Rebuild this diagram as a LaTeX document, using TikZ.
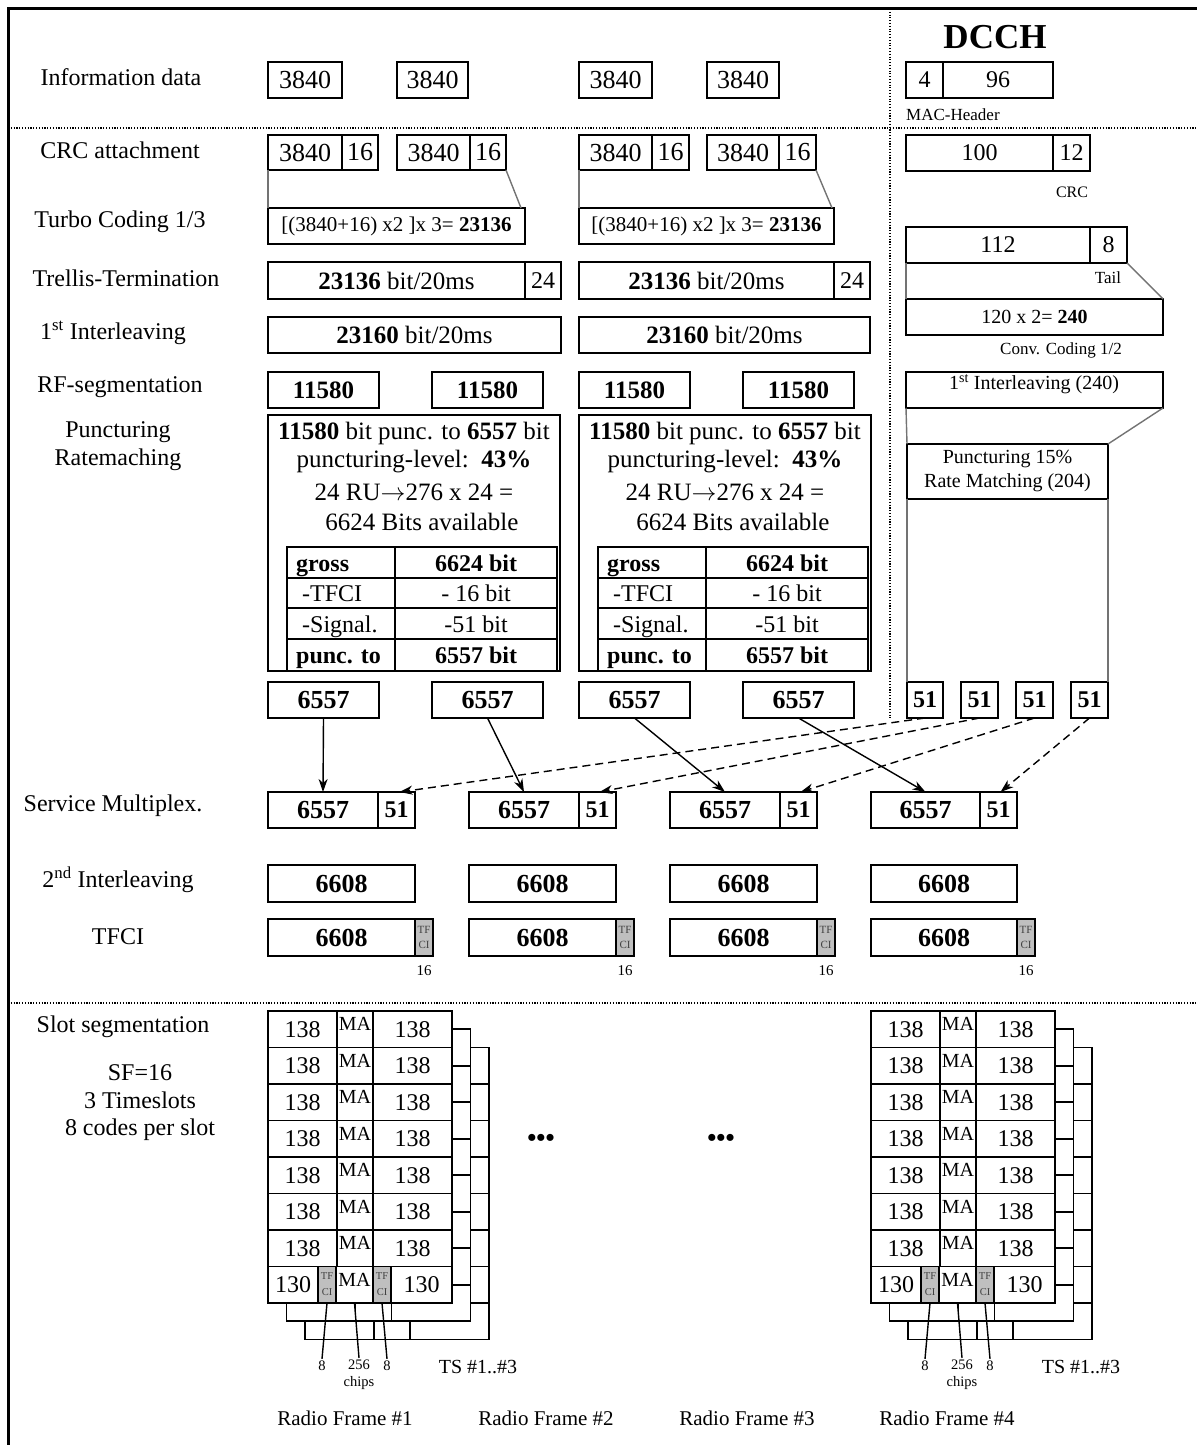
\documentclass[tikz,border=0pt]{standalone}
\usepackage{fontspec}
\setmainfont{Liberation Serif}
\usetikzlibrary{calc,arrows.meta}
\newcommand\fz[2]{\fontsize{#1}{#2}\selectfont}
\tikzset{
 bxs/.style={draw,line width=1.6pt,inner sep=0pt,outer sep=0pt,fill=white,font=\fz{24}{28}},
 lbl/.style={inner sep=0pt,font=\fz{24}{28}},
 tbl/.style={inner sep=0pt,font=\fz{24}{28},text height=17pt,text depth=5pt},
 sml/.style={inner sep=0pt,font=\fz{17}{20}},
 grayl/.style={draw=black!55,line width=1.4pt},
 dotl/.style={line width=1.1pt,dash pattern=on 1.1pt off 1.7pt},
 arr/.style={-{Stealth[length=13pt,width=9pt,inset=4pt]},line width=1.4pt},
 darr/.style={arr,dash pattern=on 8pt off 5pt},
 tfc/.style={fill=gray!50,align=center,font=\fz{11}{15},text=black!75},
 tft/.style={inner sep=0pt,font=\fz{10.5}{12},text=black!75},
 mac/.style={font=\fz{20}{22}},
 big/.style={font=\fz{26}{30}},
 bigb/.style={font=\fz{26}{30}\bfseries},
}
\newcommand\Bx[7][]{\node[bxs,minimum width={((#4)-(#2))*1pt},minimum height={((#5)-(#3))*1pt},#1] (#6) at ({((#2)+(#4))/2},{((#3)+(#5))/2}) {#7};}
\newcommand\puncbox[2]{%
 \Bx{#1+268}{415}{#1+560}{671}{#2}{}
 \node[lbl,font=\fz{25}{30}] (#2a) at ({#1+414},433) {\textbf{11580} bit punc. to \textbf{6557} bit};
 \node[lbl,font=\fz{25}{30}] (#2b) at ({#1+414},462) {puncturing-level:\ \ \textbf{43\%}};
 \node[lbl,font=\fz{25}{30}] (#2c) at ({#1+414},492) {24 RU$\rightarrow$276 x 24 =};
 \node[lbl,font=\fz{25}{30}] (#2d) at ({#1+422},522) {6624 Bits available};
 \draw[line width=1.3pt] ({#1+287},578) -- ({#1+557},578) ({#1+287},608) -- ({#1+557},608);
 \draw[line width=2.4pt] ({#1+287},639) -- ({#1+557},639);
 \draw[line width=2.4pt] ({#1+395},547) -- ({#1+395},671);
 \draw[line width=2.4pt] ({#1+287},547) rectangle ({#1+557},671);
 \node[tbl,anchor=west] (#2ga) at ({#1+296},565) {\textbf{gross}};
 \node[tbl,anchor=west] (#2gb) at ({#1+302},595) {-TFCI};
 \node[tbl,anchor=west] (#2gc) at ({#1+302},626) {-Signal.};
 \node[tbl,anchor=west] (#2gd) at ({#1+296},657) {\textbf{punc. to}};
 \node[tbl] (#2ha) at ({#1+476},565) {\textbf{6624 bit}};
 \node[tbl] (#2hb) at ({#1+476},595) {- 16 bit};
 \node[tbl] (#2hc) at ({#1+476},626) {-51 bit};
 \node[tbl] (#2hd) at ({#1+476},657) {\textbf{6557 bit}};
}
\newcommand\slotgroup[2]{%
 \foreach \L/\dx/\dy in {3/37/36.5,2/18.5/18.25}{%
  \foreach \r in {1,...,8}{%
   \pgfmathsetmacro\ya{1011+(\r-1)*36.5+\dy}%
   \pgfmathsetmacro\yb{\ya+36.5}%
   \Bx{#1+268+\dx}{\ya}{#1+337+\dx}{\yb}{#2L\L-r\r-a}{}
   \Bx{#1+337+\dx}{\ya}{#1+373+\dx}{\yb}{#2L\L-r\r-b}{}
   \Bx{#1+373+\dx}{\ya}{#1+452+\dx}{\yb}{#2L\L-r\r-c}{}
  }%
 }%
 \foreach \r in {1,...,7}{%
   \pgfmathsetmacro\ya{1011+(\r-1)*36.5}%
   \pgfmathsetmacro\yb{\ya+36.5}%
   \Bx{#1+268}{\ya}{#1+337}{\yb}{#2F-r\r-a}{138}
   \Bx[mac]{#1+337}{\ya}{#1+373}{\yb}{#2F-r\r-b}{\raisebox{10pt}{MA}}
   \Bx{#1+373}{\ya}{#1+452}{\yb}{#2F-r\r-c}{138}
 }%
 \Bx{#1+268}{1266.5}{#1+318}{1303}{#2F-r8-a}{130}
 \Bx[fill=gray!50]{#1+318}{1266.5}{#1+336}{1303}{#2tfa}{}
 \Bx[mac]{#1+336}{1266.5}{#1+373}{1303}{#2ma}{\raisebox{10pt}{MA}}
 \Bx[fill=gray!50]{#1+373}{1266.5}{#1+391}{1303}{#2tfb}{}
 \Bx{#1+391}{1266.5}{#1+452}{1303}{#2F-r8-c}{130}
 \node[tft] (#2tfa1) at ({#1+327},1276) {TF};
 \node[tft] (#2tfa2) at ({#1+327},1292) {CI};
 \node[tft] (#2tfb1) at ({#1+382},1276) {TF};
 \node[tft] (#2tfb2) at ({#1+382},1292) {CI};
 \node[inner sep=2pt,font=\fz{14.5}{17}] (#2n8a) at ({#1+322},1366) {8};
 \node[inner sep=2pt,font=\fz{14.5}{17},align=center] (#2n256) at ({#1+359},1375) {256\\chips};
 \node[inner sep=2pt,font=\fz{14.5}{17}] (#2n8b) at ({#1+387},1366) {8};
 \draw[line width=1.4pt] (#2tfa.south) -- (#2n8a.north);
 \draw[line width=1.4pt] (#2ma.south) -- (#2n256.north);
 \draw[line width=1.4pt] (#2tfb.south) -- (#2n8b.north);
 \node[lbl,font=\fz{20}{24}] (#2ts) at ({#1+478},1367) {TS \#1..\#3};
}
\begin{document}
\begin{tikzpicture}[x=1pt,y=-1pt]
\useasboundingbox (0,0) rectangle (1197,1445);
% frame and separators
\draw[line width=3pt] (8,1445) -- (8,9) -- (1197,9);
\draw[dotl] (8,128) -- (1197,128);
\draw[dotl] (8,1003) -- (1197,1003);
\draw[dotl] (890,9) -- (890,718);
% left labels
\node[lbl] (lInfo) at (121,77) {Information data};
\node[lbl] (lCRC) at (120,150) {CRC attachment};
\node[lbl] (lTurbo) at (120,222) {Turbo Coding 1/3};
\node[lbl] (lTrel) at (126,278) {Trellis-Termination};
\node[lbl] (lIl) at (113,333) {1\textsuperscript{st} Interleaving};
\node[lbl] (lRF) at (120,387) {RF-segmentation};
\node[lbl,align=center] (lPunc) at (118,446) {Puncturing\\Ratemaching};
\node[lbl] (lSM) at (113,806) {Service Multiplex.};
\node[lbl] (lIl2) at (118,880) {2\textsuperscript{nd} Interleaving};
\node[lbl] (lTFCI) at (118,937) {TFCI};
\node[lbl] (lSlot) at (123,1027) {Slot segmentation};
\node[lbl,align=center,font=\fz{24}{27.5}] (lSF) at (140,1103) {SF=16\\3 Timeslots\\8 codes per slot};
% information data
\Bx[big]{268}{62}{342}{98}{i1}{3840}
\Bx[big]{397}{62}{468}{98}{i2}{3840}
\Bx[big]{579}{62}{652}{98}{i3}{3840}
\Bx[big]{707}{62}{779}{98}{i4}{3840}
% CRC
\Bx[big]{268}{135}{342}{170}{c1a}{3840}\Bx[big]{342}{135}{378}{170}{c1b}{16}
\Bx[big]{397}{135}{470}{170}{c2a}{3840}\Bx[big]{470}{135}{506}{170}{c2b}{16}
\Bx[big]{579}{135}{652}{170}{c3a}{3840}\Bx[big]{652}{135}{689}{170}{c3b}{16}
\Bx[big]{707}{135}{779}{170}{c4a}{3840}\Bx[big]{779}{135}{816}{170}{c4b}{16}
% turbo
\Bx[font=\fz{21}{25}]{268}{208}{525}{244}{t1}{[(3840+16) x2 ]x 3= \textbf{23136}}
\Bx[font=\fz{21}{25}]{579}{208}{834}{244}{t2}{[(3840+16) x2 ]x 3= \textbf{23136}}
\draw[grayl] (c1a.south west) -- (t1.north west);
\draw[grayl] (c2b.south east) -- ($(t1.north east)+(-4,0)$);
\draw[grayl] (c3a.south west) -- (t2.north west);
\draw[grayl] (c4b.south east) -- ($(t2.north east)+(-2,0)$);
% trellis
\Bx[font=\fz{25}{29}]{268}{262}{525}{299}{tr1a}{\textbf{23136} bit/20ms}\Bx{525}{262}{561}{299}{tr1b}{24}
\Bx[font=\fz{25}{29}]{579}{262}{834}{299}{tr2a}{\textbf{23136} bit/20ms}\Bx{834}{262}{870}{299}{tr2b}{24}
% 1st interleaving
\Bx[font=\fz{25}{29}]{268}{317}{561}{353}{il1}{\textbf{23160} bit/20ms}
\Bx[font=\fz{25}{29}]{579}{317}{870}{353}{il2}{\textbf{23160} bit/20ms}
% RF segmentation
\Bx[font=\fz{25}{29}\bfseries]{268}{372}{379}{408}{rf1}{11580}
\Bx[font=\fz{25}{29}\bfseries]{432}{372}{543}{408}{rf2}{11580}
\Bx[font=\fz{25}{29}\bfseries]{579}{372}{690}{408}{rf3}{11580}
\Bx[font=\fz{25}{29}\bfseries]{743}{372}{854}{408}{rf4}{11580}
% puncturing
\puncbox{0}{pa}
\puncbox{311}{pb}
% 6557 outputs
\Bx[bigb]{268}{682}{379}{718}{o1}{6557}
\Bx[bigb]{432}{682}{543}{718}{o2}{6557}
\Bx[bigb]{579}{682}{690}{718}{o3}{6557}
\Bx[bigb]{743}{682}{854}{718}{o4}{6557}
% DCCH
\node[inner sep=0pt,font=\fz{35}{40}\bfseries] (dcch) at (995,37) {DCCH};
\Bx{906}{62}{943}{98}{d4}{4}\Bx{943}{62}{1053}{98}{d96}{96}
\node[sml,anchor=west] (dmac) at (906,115) {MAC-Header};
\Bx{906}{135}{1053}{171}{d100}{100}\Bx{1053}{135}{1090}{171}{d12}{12}
\node[sml,font=\fz{16}{19}] (dcrc) at (1072,192) {CRC};
\Bx{906}{227}{1090}{263}{d112}{112}\Bx{1090}{227}{1127}{263}{d8}{8}
\node[sml] (dtail) at (1108,278) {Tail};
\Bx[font=\fz{20}{24}]{906}{299}{1163}{335}{dconv}{120 x 2= \textbf{240}}
\node[sml] (dconvl) at (1061,350) {Conv. Coding 1/2};
\Bx{906}{372}{1163}{408}{dil}{}
\node[inner sep=0pt,font=\fz{20}{24}] (dilt) at (1034,384) {1\textsuperscript{st} Interleaving (240)};
\Bx[align=center,font=\fz{20}{24}]{907}{444}{1108}{499}{dpun}{Puncturing 15\%\\Rate Matching (204)}
\draw[grayl] (d112.south west) -- (dconv.north west);
\draw[grayl] (d8.south east) -- (dconv.north east);
\draw[grayl] (dil.south west) -- (dpun.north west);
\draw[grayl] (dil.south east) -- (dpun.north east);
\Bx[font=\fz{24}{28}\bfseries]{907}{682}{943}{718}{e1}{51}
\Bx[font=\fz{24}{28}\bfseries]{961}{682}{998}{718}{e2}{51}
\Bx[font=\fz{24}{28}\bfseries]{1016}{682}{1053}{718}{e3}{51}
\Bx[font=\fz{24}{28}\bfseries]{1071}{682}{1108}{718}{e4}{51}
\draw[grayl] (dpun.south west) -- (e1.north west);
\draw[grayl] (dpun.south east) -- (e4.north east);
% service multiplex
\Bx[bigb]{268}{792}{378}{828}{s1a}{6557}\Bx[font=\fz{24}{28}\bfseries]{378}{792}{415}{828}{s1b}{51}
\Bx[bigb]{469}{792}{579}{828}{s2a}{6557}\Bx[font=\fz{24}{28}\bfseries]{579}{792}{616}{828}{s2b}{51}
\Bx[bigb]{670}{792}{780}{828}{s3a}{6557}\Bx[font=\fz{24}{28}\bfseries]{780}{792}{817}{828}{s3b}{51}
\Bx[bigb]{871}{792}{980}{828}{s4a}{6557}\Bx[font=\fz{24}{28}\bfseries]{980}{792}{1017}{828}{s4b}{51}
\draw[arr] (o1.south) -- (s1a.north);
\draw[arr] (o2.south) -- (s2a.north);
\draw[arr] (o3.south) -- (s3a.north);
\draw[arr] (o4.south) -- (s4a.north);
\draw[darr] (e1.south) -- ($(s1b.north)+(3,0)$);
\draw[darr] (e2.south) -- ($(s2b.north)+(2,0)$);
\draw[darr] (e3.south) -- ($(s3b.north)+(2,0)$);
\draw[darr] (e4.south) -- ($(s4b.north)+(2,0)$);
% 2nd interleaving
\Bx[bigb]{268}{865}{415}{902}{v1}{6608}
\Bx[bigb]{469}{865}{616}{902}{v2}{6608}
\Bx[bigb]{670}{865}{817}{902}{v3}{6608}
\Bx[bigb]{871}{865}{1017}{902}{v4}{6608}
% TFCI
\Bx[bigb]{268}{919}{415}{956}{w1}{6608}\Bx[tfc]{415}{919}{433}{956}{w1t}{TF\\CI}
\Bx[bigb]{469}{919}{616}{956}{w2}{6608}\Bx[tfc]{616}{919}{634}{956}{w2t}{TF\\CI}
\Bx[bigb]{670}{919}{817}{956}{w3}{6608}\Bx[tfc]{817}{919}{835}{956}{w3t}{TF\\CI}
\Bx[bigb]{871}{919}{1017}{956}{w4}{6608}\Bx[tfc]{1017}{919}{1035}{956}{w4t}{TF\\CI}
\node[inner sep=0pt,font=\fz{15}{18}] (w1n) at (424,971) {16};
\node[inner sep=0pt,font=\fz{15}{18}] (w2n) at (625,971) {16};
\node[inner sep=0pt,font=\fz{15}{18}] (w3n) at (826,971) {16};
\node[inner sep=0pt,font=\fz{15}{18}] (w4n) at (1026,971) {16};
% slot segmentation
\slotgroup{0}{ga}
\slotgroup{603}{gb}
\node[inner sep=0pt,font=\fz{26}{30}\bfseries] (dots1) at (541,1140) {•••};
\node[inner sep=0pt,font=\fz{26}{30}\bfseries] (dots2) at (721,1140) {•••};
% radio frames
\node[lbl,font=\fz{21}{25}] (rf1l) at (345,1418) {Radio Frame \#1};
\node[lbl,font=\fz{21}{25}] (rf2l) at (546,1418) {Radio Frame \#2};
\node[lbl,font=\fz{21}{25}] (rf3l) at (747,1418) {Radio Frame \#3};
\node[lbl,font=\fz{21}{25}] (rf4l) at (947,1418) {Radio Frame \#4};
\end{tikzpicture}
\end{document}
